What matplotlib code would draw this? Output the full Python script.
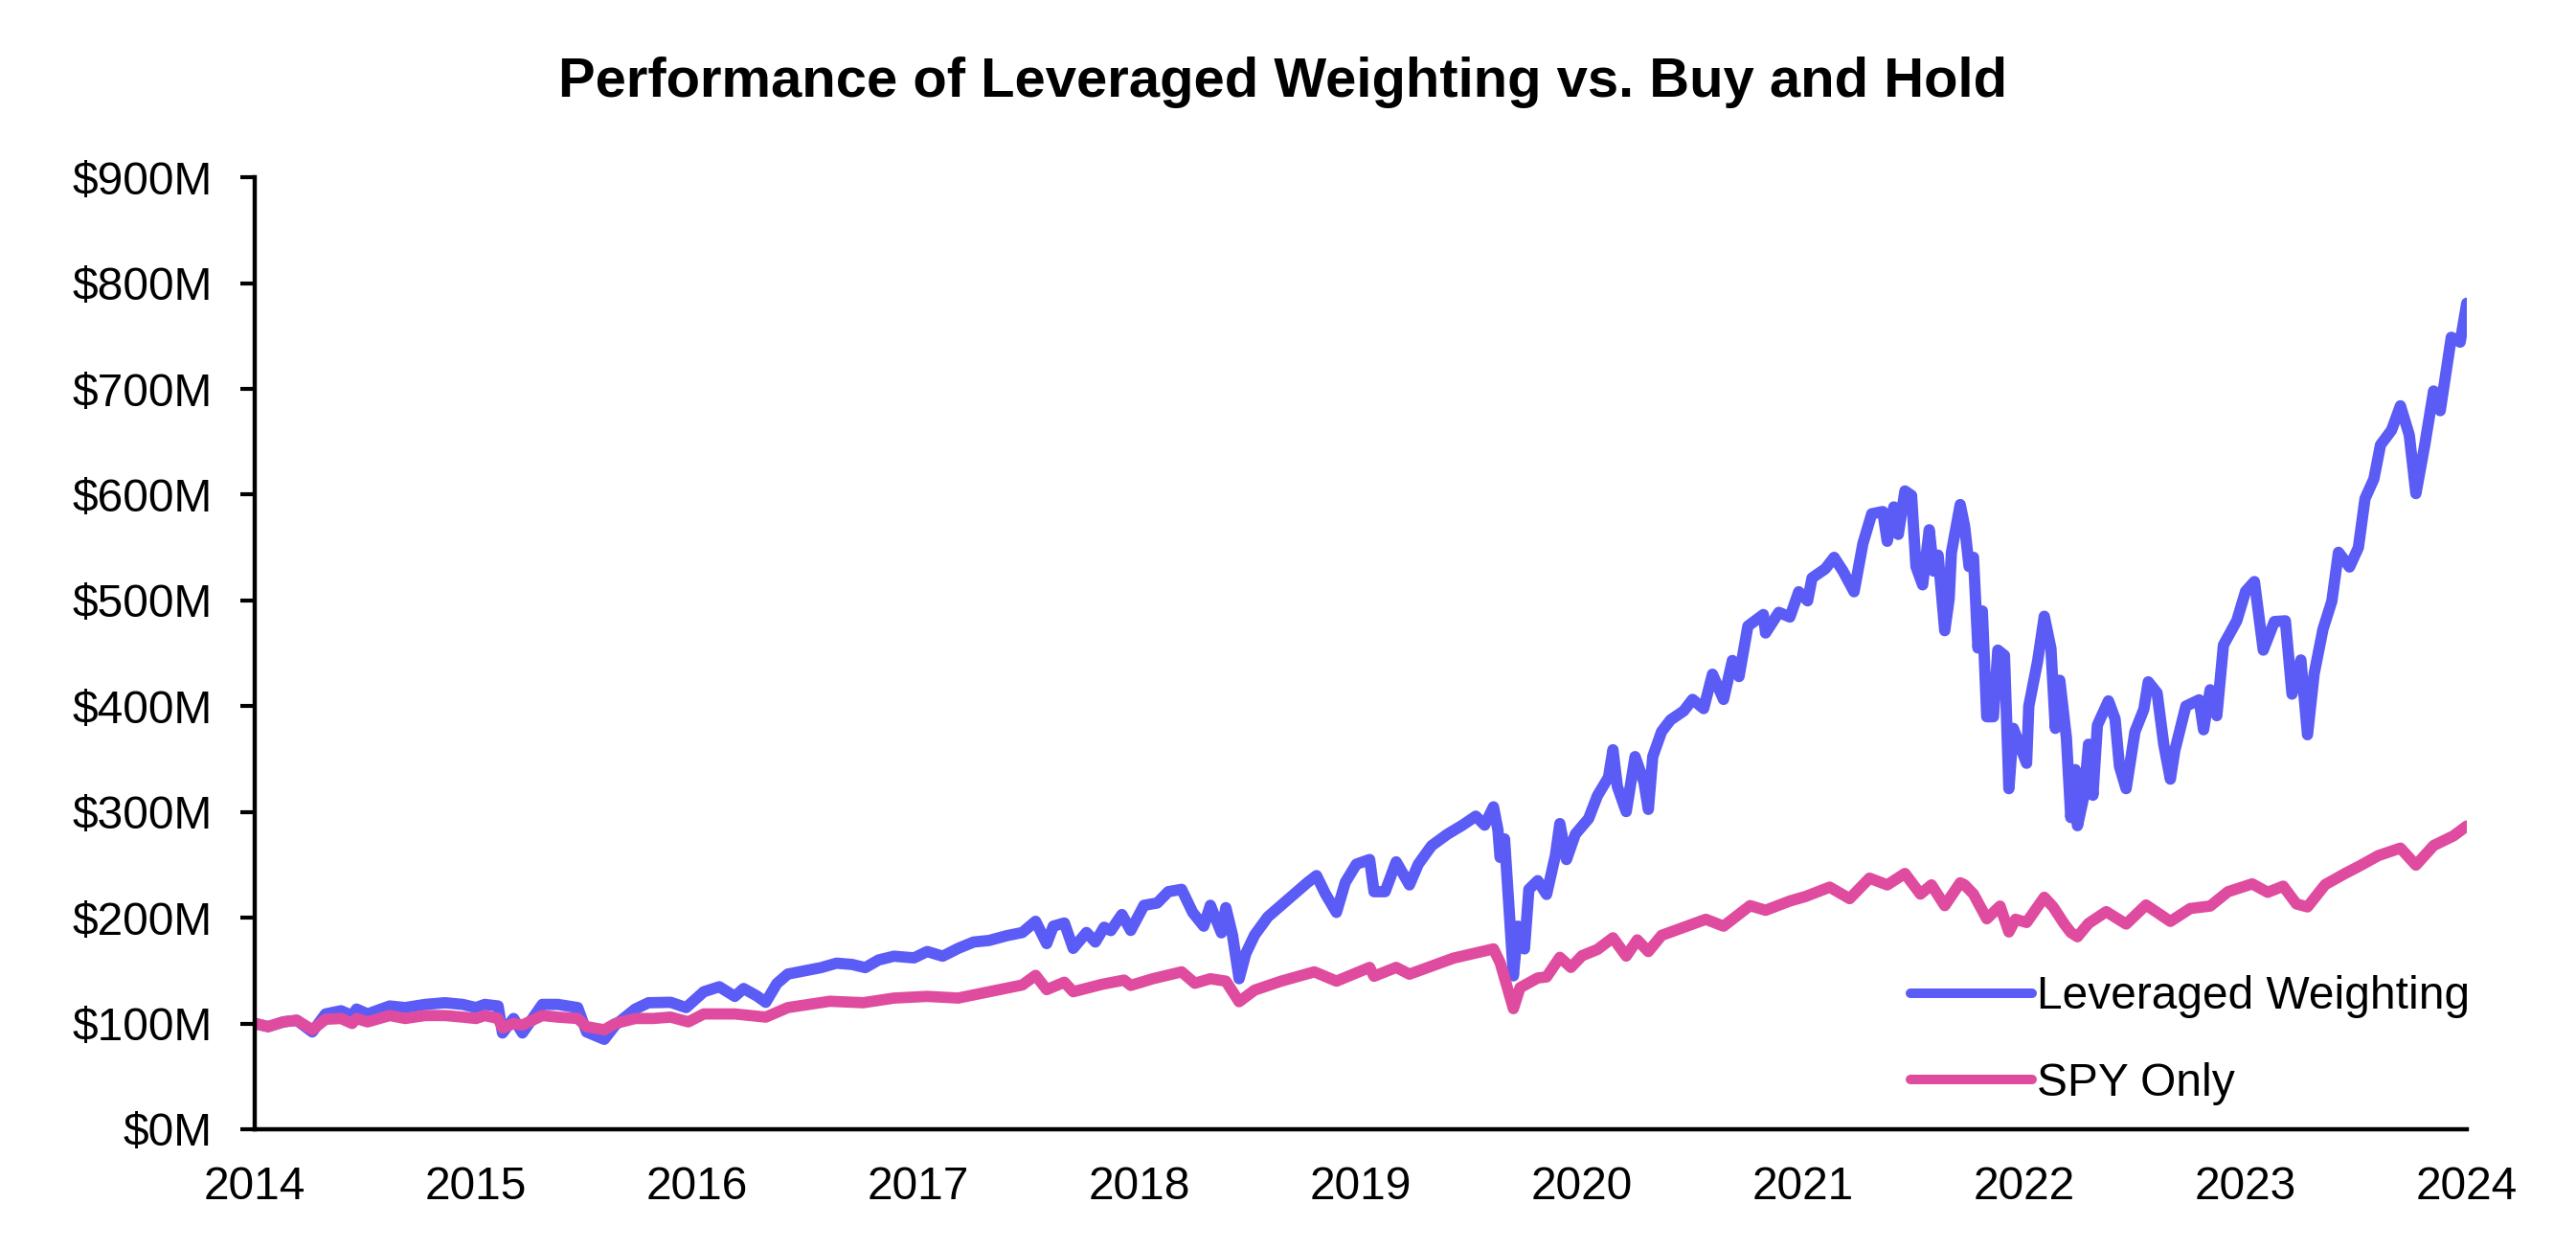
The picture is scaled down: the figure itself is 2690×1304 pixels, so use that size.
import matplotlib
matplotlib.use("Agg")
import matplotlib.pyplot as plt
from matplotlib.ticker import FuncFormatter

plt.rcParams['font.family'] = ['Liberation Sans', 'DejaVu Sans']

# Portfolio values in $M (x in fractional years)
lev_years = [
    2014.00, 2014.06, 2014.13, 2014.19, 2014.26, 2014.32, 2014.39, 2014.44, 2014.46, 2014.51,
    2014.61, 2014.68, 2014.77, 2014.86, 2014.94, 2015.00, 2015.04, 2015.10, 2015.12, 2015.17,
    2015.21, 2015.30, 2015.37, 2015.46, 2015.50, 2015.58, 2015.63, 2015.72, 2015.78, 2015.88,
    2015.95, 2016.03, 2016.10, 2016.17, 2016.21, 2016.27, 2016.31, 2016.36, 2016.41, 2016.49,
    2016.56, 2016.63, 2016.70, 2016.76, 2016.82, 2016.89, 2016.98, 2017.04, 2017.11, 2017.18,
    2017.25, 2017.32, 2017.40, 2017.47, 2017.53, 2017.58, 2017.61, 2017.66, 2017.70, 2017.76,
    2017.80, 2017.84, 2017.87, 2017.92, 2017.96, 2018.02, 2018.08, 2018.13, 2018.19, 2018.24,
    2018.29, 2018.32, 2018.37, 2018.39, 2018.42, 2018.45, 2018.48, 2018.52, 2018.58, 2018.64,
    2018.70, 2018.76, 2018.80, 2018.84, 2018.89, 2018.93, 2018.98, 2019.04, 2019.06, 2019.11,
    2019.16, 2019.22, 2019.26, 2019.32, 2019.39, 2019.46, 2019.52, 2019.56, 2019.60, 2019.62,
    2019.63, 2019.65, 2019.67, 2019.69, 2019.71, 2019.74, 2019.76, 2019.80, 2019.84, 2019.88,
    2019.90, 2019.93, 2019.97, 2020.03, 2020.07, 2020.12, 2020.14, 2020.16, 2020.20, 2020.24,
    2020.28, 2020.30, 2020.32, 2020.36, 2020.40, 2020.46, 2020.50, 2020.55, 2020.59, 2020.64,
    2020.68, 2020.71, 2020.75, 2020.82, 2020.83, 2020.89, 2020.94, 2020.98, 2021.02, 2021.04,
    2021.10, 2021.14, 2021.18, 2021.23, 2021.27, 2021.31, 2021.36, 2021.38, 2021.41, 2021.43,
    2021.46, 2021.49, 2021.51, 2021.54, 2021.57, 2021.59, 2021.61, 2021.64, 2021.66, 2021.67,
    2021.71, 2021.73, 2021.75, 2021.77, 2021.79, 2021.81, 2021.83, 2021.86, 2021.88, 2021.91,
    2021.93, 2021.95, 2022.01, 2022.02, 2022.06, 2022.09, 2022.12, 2022.14, 2022.16, 2022.19,
    2022.21, 2022.23, 2022.24, 2022.27, 2022.29, 2022.31, 2022.33, 2022.38, 2022.41, 2022.43,
    2022.46, 2022.50, 2022.54, 2022.56, 2022.60, 2022.63, 2022.66, 2022.68, 2022.73, 2022.79,
    2022.81, 2022.84, 2022.87, 2022.90, 2022.96, 2023.00, 2023.04, 2023.08, 2023.13, 2023.18,
    2023.21, 2023.25, 2023.28, 2023.31, 2023.35, 2023.39, 2023.42, 2023.47, 2023.51, 2023.54,
    2023.58, 2023.61, 2023.66, 2023.70, 2023.74, 2023.77, 2023.81, 2023.85, 2023.88, 2023.93,
    2023.97, 2024.00,
]
lev_values = [
    100, 97, 101.5, 103, 92, 109, 112, 107.5, 113.6, 109,
    116.5, 115, 118, 119.6, 118, 115, 118, 116.5, 91, 104.7,
    91, 118, 118, 115, 92, 85, 98.5, 113.6, 119.6, 120,
    115, 130, 134.7, 125.6, 133, 126, 120, 137.7, 146.7, 150,
    152.8, 157, 155.8, 152.8, 160, 163.6, 162, 168, 163.6, 171,
    177, 178.5, 183, 186, 196.6, 175.5, 192, 195, 171, 186,
    177, 191, 187.8, 203, 188, 211.7, 213.9, 224.6, 226.8, 205,
    192, 211.7, 185.7, 209.5, 183.6, 142.3, 166, 183.6, 200.8, 211.7,
    222.6, 233.4, 239.8, 222.6, 205, 233.4, 250.6, 255, 224.6, 224.6,
    252.8, 231, 250.6, 268, 278.7, 287.5, 296, 287.5, 304.8, 283,
    257, 274.5, 209.5, 145, 192, 170.5, 226.8, 235, 222, 259,
    289, 255, 279, 293.7, 315.4, 332.8, 358.8, 324, 300.3, 352.3,
    328.4, 302.4, 352.3, 376, 386.9, 395.5, 406.4, 397.7, 430.2, 406.4,
    443.2, 428, 475.7, 486.6, 469.2, 488.7, 484.3, 508.2, 499.6, 521.2,
    529.9, 540.7, 527.7, 508.2, 553.7, 581.9, 584, 555.9, 588.4, 562.4,
    603.5, 599.2, 532, 514.7, 566.8, 527.7, 542.8, 471.4, 501.7, 545,
    590.6, 570, 532, 540.7, 455, 490, 390, 390, 453, 448,
    322, 379, 346, 400, 442.7, 485, 454.7, 379, 424.5, 370,
    294.7, 340, 287, 315.8, 364, 315.8, 382, 405, 388, 343,
    322, 376, 397, 423, 412.5, 364, 331, 358, 400, 406,
    377.7, 415.5, 391, 457.8, 480.7, 508.5, 517.8, 453, 480, 480.7,
    411.4, 443.7, 373, 430.6, 472.8, 499.3, 545.5, 531.6, 550, 596.3,
    614.8, 647, 661, 684, 656.4, 601, 647, 698, 679.4, 748.8,
    744.2, 781,
]

spy_years = [
    2014.00, 2014.06, 2014.13, 2014.19, 2014.26, 2014.32, 2014.39, 2014.44, 2014.46, 2014.51,
    2014.61, 2014.68, 2014.77, 2014.86, 2014.94, 2015.00, 2015.04, 2015.10, 2015.12, 2015.17,
    2015.21, 2015.30, 2015.37, 2015.46, 2015.50, 2015.58, 2015.63, 2015.72, 2015.80, 2015.88,
    2015.96, 2016.03, 2016.17, 2016.31, 2016.41, 2016.60, 2016.75, 2016.89, 2017.04, 2017.18,
    2017.32, 2017.47, 2017.53, 2017.58, 2017.66, 2017.70, 2017.83, 2017.93, 2017.96, 2018.06,
    2018.19, 2018.25, 2018.32, 2018.39, 2018.45, 2018.52, 2018.64, 2018.79, 2018.89, 2019.04,
    2019.06, 2019.16, 2019.22, 2019.42, 2019.60, 2019.63, 2019.69, 2019.72, 2019.80, 2019.84,
    2019.90, 2019.95, 2020.00, 2020.07, 2020.14, 2020.20, 2020.25, 2020.30, 2020.36, 2020.50,
    2020.56, 2020.64, 2020.76, 2020.83, 2020.94, 2021.01, 2021.12, 2021.21, 2021.30, 2021.38,
    2021.46, 2021.53, 2021.58, 2021.64, 2021.71, 2021.73, 2021.77, 2021.83, 2021.89, 2021.93,
    2021.96, 2022.01, 2022.09, 2022.13, 2022.18, 2022.21, 2022.24, 2022.29, 2022.37, 2022.46,
    2022.55, 2022.66, 2022.75, 2022.84, 2022.92, 2023.03, 2023.10, 2023.17, 2023.23, 2023.28,
    2023.36, 2023.45, 2023.52, 2023.60, 2023.70, 2023.77, 2023.85, 2023.94, 2024.00,
]
spy_values = [
    100, 97, 101.5, 103, 94, 104, 104.7, 100, 104.7, 101.5,
    107.5, 104.7, 107.5, 107.5, 106, 104.7, 107.5, 104.7, 95.7, 100,
    98.5, 107.5, 106, 104.7, 97, 94, 100, 104.7, 104.7, 106,
    101.5, 109, 109, 106, 115, 121, 119.6, 124, 125.6, 124,
    130, 136.4, 145.5, 132, 139, 130, 137, 141, 136, 142.3,
    148.8, 138, 142.3, 140, 120.6, 131.5, 140, 148.8, 140, 153,
    144.6, 153, 146.6, 161.8, 170.5, 157.5, 114, 133.8, 143, 144,
    162.5, 153, 164, 170, 181, 163.7, 179, 168, 183.3, 194,
    198.5, 192, 211.4, 207, 215.8, 220, 228.9, 218, 237.4, 231,
    241.8, 222.3, 231, 211.4, 233, 231, 222.3, 199, 211, 186.5,
    198.5, 195.5, 219.3, 210.2, 194.2, 186, 182, 194.6, 205.7, 194,
    212, 196.5, 208.7, 211, 224.5, 232, 224, 229.8, 213, 210.2,
    231.3, 241.8, 249.4, 258.7, 265.8, 249.7, 268.2, 277.4, 286.7,
]

year_ticks = list(range(2014, 2025))
value_ticks = list(range(0, 1000, 100))

fig = plt.figure(figsize=(26.9, 13.04), dpi=100)
ax = fig.add_axes([0.0989, 0.0959, 0.8587, 0.7621])

ax.plot(lev_years, lev_values, color='#5b5bf5', lw=8.5, label='Leveraged Weighting',
        solid_joinstyle='round', solid_capstyle='round')
ax.plot(spy_years, spy_values, color='#df4c9f', lw=8.5, label='SPY Only',
        solid_joinstyle='round', solid_capstyle='round')

ax.set_xlim(2014, 2024)
ax.set_ylim(0, 900)
ax.set_xticks(year_ticks)
ax.set_yticks(value_ticks)
ax.yaxis.set_major_formatter(FuncFormatter(lambda v, p: f'${int(v)}M'))

for side in ['top', 'right']:
    ax.spines[side].set_visible(False)
for side in ['left', 'bottom']:
    ax.spines[side].set_linewidth(3.2)
ax.tick_params(axis='y', length=11, width=3, pad=21, labelsize=34.5)
ax.tick_params(axis='x', length=0, pad=27.5, labelsize=34.5)

fig.text(0.498, 0.934, 'Performance of Leveraged Weighting vs. Buy and Hold',
         ha='center', va='center', fontsize=41.8, fontweight='bold')

leg = ax.legend(loc='upper left', bbox_to_anchor=(0.7416, 0.219), bbox_transform=fig.transFigure,
                frameon=False, fontsize=34.5, handlelength=2.65, handletextpad=0.1,
                labelspacing=0.95, borderpad=0, borderaxespad=0)
for line in leg.get_lines():
    line.set_linewidth(7.2)

fig.savefig('out.png', dpi=100)
